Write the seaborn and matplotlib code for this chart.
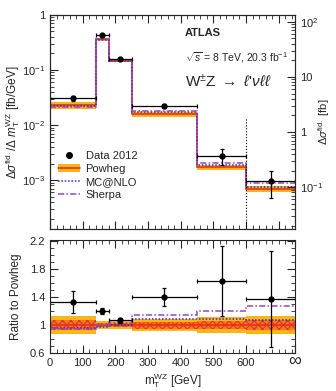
import numpy as np
import matplotlib
matplotlib.use('Agg')
import matplotlib.pyplot as plt
import matplotlib.ticker as mticker
from matplotlib.lines import Line2D
from matplotlib.patches import Patch
import seaborn as sns

# bins of m_T^WZ [GeV], last bin drawn up to 750 and labelled infinity
edges = [0, 140, 180, 250, 450, 600, 750]
centers = [70, 160, 215, 350, 525, 675]
half_w = [70, 20, 35, 100, 75, 75]

# cross sections [fb/GeV]
data_xs = [0.0306, 0.430, 0.158, 0.0221, 0.00277, 0.000963]
data_err = [0.00366, 0.0143, 0.0052, 0.00204, 0.00085, 0.00048]
powheg_xs = [0.0229, 0.358, 0.148, 0.0157, 0.0017, 0.0007]
mcnlo_xs = [0.0220, 0.351, 0.148, 0.0171, 0.00185, 0.000756]
sherpa_xs = [0.0215, 0.358, 0.152, 0.0179, 0.00204, 0.000893]

# Powheg uncertainty bands (relative half widths)
band_total = [0.13, 0.06, 0.06, 0.09, 0.11, 0.13]
band_inner = [0.07, 0.03, 0.03, 0.05, 0.06, 0.07]

c_band = '#FDB515'
c_red = '#E8301C'
c_blue = '#2C2CD8'
c_purple = '#9444C4'

sns.set_style('ticks')
plt.rcParams['font.family'] = ['Liberation Sans', 'DejaVu Sans']
plt.rcParams['mathtext.fontset'] = 'custom'
plt.rcParams['mathtext.rm'] = 'Liberation Sans'
plt.rcParams['mathtext.it'] = 'Liberation Sans:italic'
plt.rcParams['mathtext.bf'] = 'Liberation Sans:bold'
plt.rcParams['hatch.linewidth'] = 0.8

fig = plt.figure(figsize=(3.36, 3.91), dpi=100)
ax1 = fig.add_axes([0.149, 0.414, 0.729, 0.548])
ax2 = fig.add_axes([0.149, 0.097, 0.729, 0.289])

pw = np.array(powheg_xs)
bt = np.array(band_total)
bi = np.array(band_inner)

# ---- top panel
ax1.stairs(pw * (1 + bt), edges, baseline=pw * (1 - bt), fill=True,
           color=c_band, linewidth=0)
ax1.stairs(powheg_xs, edges, baseline=None, color=c_red, linewidth=1.2)
ax1.stairs(mcnlo_xs, edges, baseline=None, color=c_blue, linewidth=1.1,
           linestyle=(0, (1, 1.2)))
ax1.stairs(sherpa_xs, edges, baseline=None, color=c_purple, linewidth=1.1,
           linestyle=(0, (4, 1.5, 1, 1.5)))
ax1.errorbar(centers, data_xs, xerr=half_w, yerr=data_err, fmt='o', color='black',
             ms=3.5, elinewidth=0.9, capsize=1.5, capthick=0.9)
ax1.axvline(600, ymin=0, ymax=0.52, color='black', linestyle=':', linewidth=0.8)

ax1.set_yscale('log')
ax1.set_ylim(1.29e-4, 1)
ax1.set_xlim(0, 750)
ax1.set_yticks([1e-3, 1e-2, 1e-1, 1])
ax1.yaxis.set_major_formatter(mticker.FixedFormatter(['$10^{-3}$', '$10^{-2}$', '$10^{-1}$', '1']))
ax1.yaxis.set_minor_locator(mticker.LogLocator(base=10, subs=np.arange(2, 10), numticks=20))
ax1.yaxis.set_minor_formatter(mticker.NullFormatter())
ax1.xaxis.set_major_locator(mticker.MultipleLocator(100))
ax1.xaxis.set_minor_locator(mticker.MultipleLocator(20))
ax1.set_xticklabels([])
ax1.tick_params(axis='both', which='both', direction='in', labelsize=8, top=True)
ax1.tick_params(which='major', length=6)
ax1.tick_params(which='minor', length=3)
ax1.set_ylabel(r'$\Delta\sigma^{\rm fid.}/\Delta\ m_{\rm T}^{\rm WZ}$ [fb/GeV]', fontsize=8.5)
ax1.yaxis.set_label_coords(-0.115, 0.5)

ax1r = ax1.twinx()
ax1r.set_yscale('log')
ax1r.set_ylim(1.29e-4 * 134, 134)
ax1r.set_yticks([0.1, 1, 10, 100])
ax1r.yaxis.set_major_formatter(mticker.FixedFormatter(['$10^{-1}$', '1', '10', '$10^{2}$']))
ax1r.yaxis.set_minor_locator(mticker.LogLocator(base=10, subs=np.arange(2, 10), numticks=20))
ax1r.yaxis.set_minor_formatter(mticker.NullFormatter())
ax1r.tick_params(axis='y', which='both', direction='in', labelsize=8)
ax1r.tick_params(which='major', length=6)
ax1r.tick_params(which='minor', length=3)
ax1r.set_ylabel(r'$\Delta\sigma^{\rm fid.}$ [fb]', fontsize=8, rotation=90)
ax1r.yaxis.set_label_coords(1.085, 0.5)

ax1.text(0.55, 0.915, 'ATLAS', transform=ax1.transAxes, fontsize=8,
         fontweight='bold', va='center')
ax1.text(0.55, 0.80, r'$\sqrt{s}$ = 8 TeV, 20.3 fb$^{-1}$', transform=ax1.transAxes,
         fontsize=7.5, va='center')
ax1.text(0.55, 0.69, r"W$^{\pm}$Z $\rightarrow$ $\ell$'$\nu\ell\ell$", transform=ax1.transAxes,
         fontsize=11, va='center')

handles = [
    Line2D([], [], marker='o', color='black', linestyle='none', ms=4),
    (Patch(facecolor=c_band, edgecolor='none'), Line2D([], [], color=c_red, lw=1.2)),
    Line2D([], [], color=c_blue, lw=1.1, linestyle=(0, (1, 1.2))),
    Line2D([], [], color=c_purple, lw=1.1, linestyle=(0, (4, 1.5, 1, 1.5))),
]
ax1.legend(handles, ['Data 2012', 'Powheg', 'MC@NLO', 'Sherpa'], loc='upper left',
           bbox_to_anchor=(0.0, 0.40), frameon=False, fontsize=8,
           handlelength=2.0, handletextpad=0.5, labelspacing=0.25, borderpad=0.2)

# ---- ratio panel
ones = np.ones(len(powheg_xs))
ax2.stairs(1 + bt, edges, baseline=1 - bt, fill=True, color=c_band, linewidth=0)
ax2.stairs(1 + bi, edges, baseline=1 - bi, fill=True, facecolor='#F47A20',
           edgecolor=c_red, hatch='xxxx', linewidth=0)
ax2.stairs(ones, edges, baseline=None, color=c_red, linewidth=1.2)
ax2.stairs(np.array(mcnlo_xs) / pw, edges, baseline=None, color=c_blue, linewidth=1.1,
           linestyle=(0, (1, 1.2)))
ax2.stairs(np.array(sherpa_xs) / pw, edges, baseline=None, color=c_purple, linewidth=1.1,
           linestyle=(0, (4, 1.5, 1, 1.5)))
ax2.errorbar(centers, np.array(data_xs) / pw, xerr=half_w, yerr=np.array(data_err) / pw,
             fmt='o', color='black', ms=3.5, elinewidth=0.9, capsize=1.5, capthick=0.9)

ax2.set_xlim(0, 750)
ax2.set_ylim(0.6, 2.22)
ax2.set_yticks([0.6, 1, 1.4, 1.8, 2.2])
ax2.yaxis.set_major_formatter(mticker.FixedFormatter(['0.6', '1', '1.4', '1.8', '2.2']))
ax2.yaxis.set_minor_locator(mticker.MultipleLocator(0.1))
ax2.set_xticks([0, 100, 200, 300, 400, 500, 600, 750])
ax2.set_xticklabels(['0', '100', '200', '300', '400', '500', '600', ''])
ax2.xaxis.set_minor_locator(mticker.MultipleLocator(20))
ax2.tick_params(axis='both', which='both', direction='in', labelsize=8, top=True, right=True)
ax2.tick_params(which='major', length=6)
ax2.tick_params(which='minor', length=3)
ax2.text(750, -0.068, r'$\infty$', transform=ax2.get_xaxis_transform(), fontsize=13,
         ha='center', va='center')
ax2.set_ylabel('Ratio to Powheg', fontsize=8.5)
ax2.yaxis.set_label_coords(-0.115, 0.5)
ax2.set_xlabel(r'm$_{\rm T}^{\rm WZ}$ [GeV]', fontsize=8.5)
ax2.xaxis.set_label_coords(0.5, -0.16)

fig.savefig('out.png', dpi=100)
